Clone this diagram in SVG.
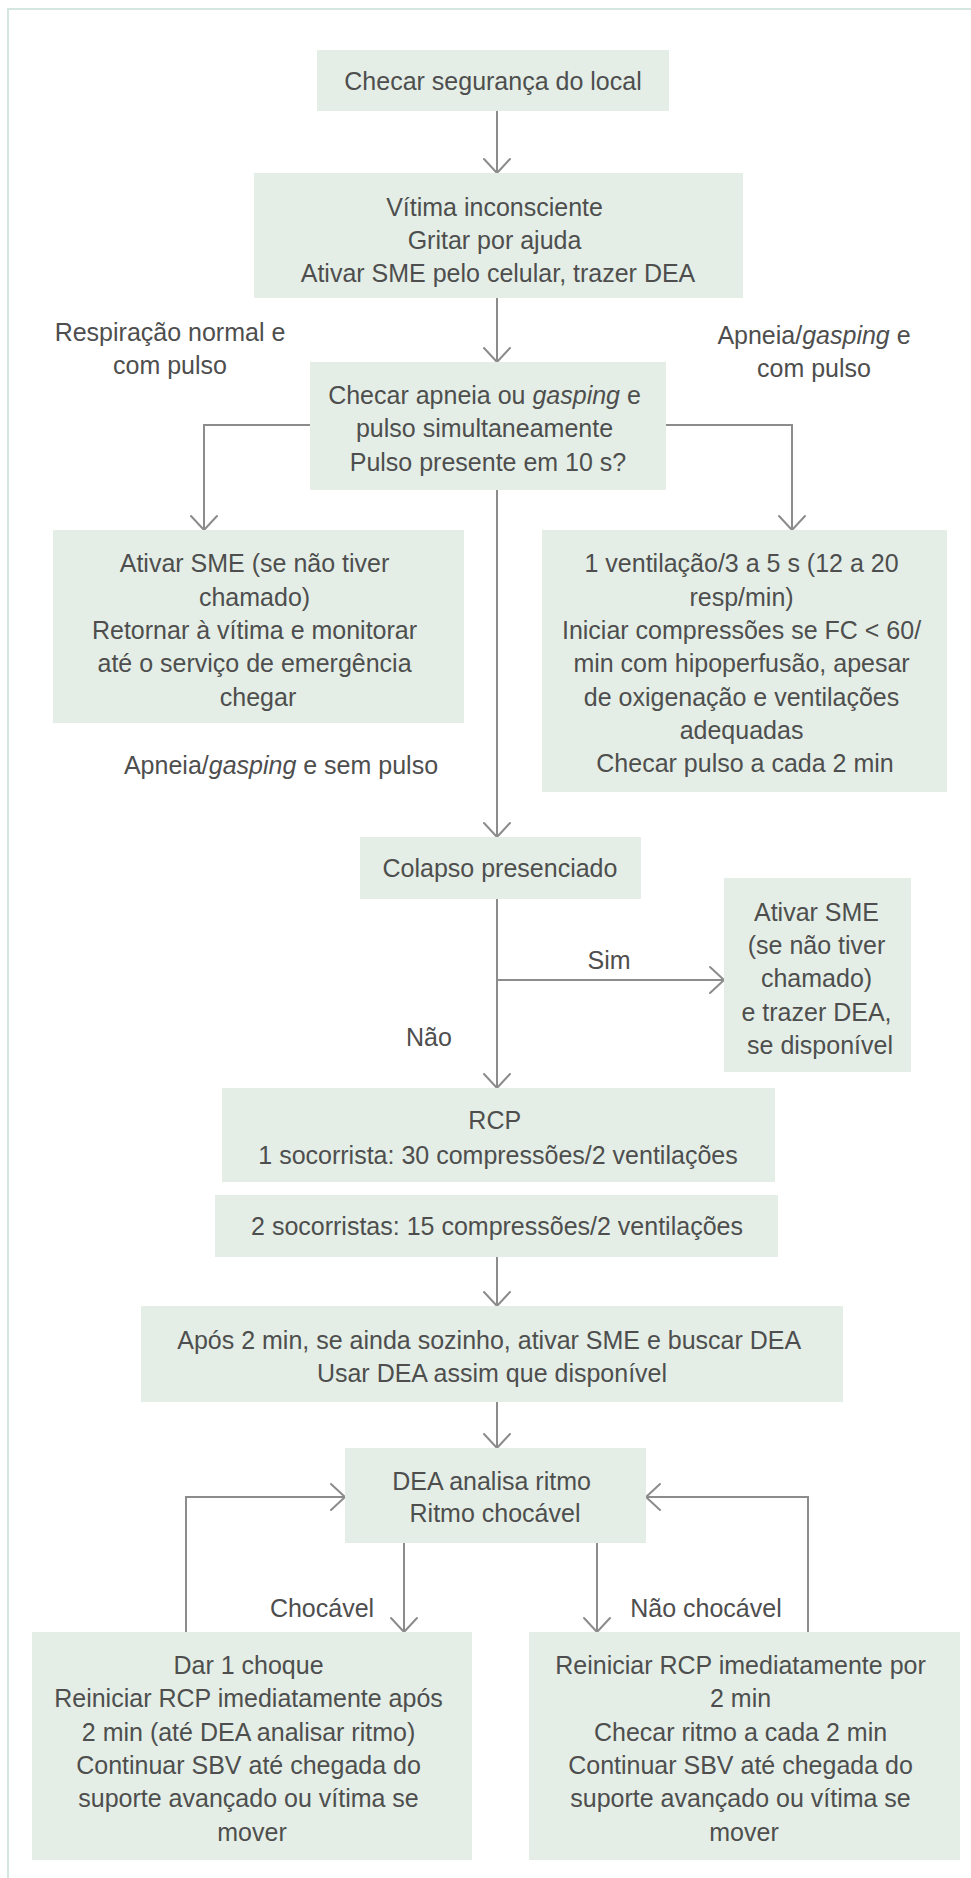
<svg xmlns="http://www.w3.org/2000/svg" width="971" height="1878" viewBox="0 0 971 1878">
  <style>
    .box { fill: #e4eee6; }
    .t { font-family: "Liberation Sans", Arial, sans-serif; font-size: 25px; fill: #4e4e4e; text-anchor: middle; }
    .i { font-style: italic; }
    .c { fill: none; stroke: #8c8c8c; stroke-width: 2; }
    .frame { fill: none; stroke: #d3e6df; stroke-width: 2; }
  </style>
  <defs>
    <marker id="chev" markerUnits="userSpaceOnUse" viewBox="-17 -16 20 32" refX="0" refY="0" markerWidth="20" markerHeight="32" orient="auto">
      <path d="M-14,-13 L0,0 L-14,13" fill="none" stroke="#8c8c8c" stroke-width="2" stroke-linejoin="round" stroke-linecap="round"/>
    </marker>
  </defs>

  <rect width="971" height="1878" fill="#ffffff"/>
  <!-- page frame (top and left rules) -->
  <path class="frame" d="M8,1878 V9 H971"/>

  <!-- connectors -->
  <g id="connectors">
    <path class="c" d="M497,111 V173" marker-end="url(#chev)"/>
    <path class="c" d="M497,298 V362" marker-end="url(#chev)"/>
    <path class="c" d="M310,425 H204 V530" marker-end="url(#chev)"/>
    <path class="c" d="M666,425 H792 V530" marker-end="url(#chev)"/>
    <path class="c" d="M497,490 V837" marker-end="url(#chev)"/>
    <path class="c" d="M497,899 V1088" marker-end="url(#chev)"/>
    <path class="c" d="M497,980 H724" marker-end="url(#chev)"/>
    <path class="c" d="M497,1257 V1306" marker-end="url(#chev)"/>
    <path class="c" d="M497,1402 V1448" marker-end="url(#chev)"/>
    <path class="c" d="M404,1543 V1632" marker-end="url(#chev)"/>
    <path class="c" d="M597,1543 V1632" marker-end="url(#chev)"/>
    <path class="c" d="M186,1632 V1497 H345" marker-end="url(#chev)"/>
    <path class="c" d="M808,1632 V1497 H646" marker-end="url(#chev)"/>
  </g>

  <!-- edge labels -->
  <g id="labels">
    <text class="t"><tspan x="170" y="341">Respiração normal e</tspan><tspan x="170" y="374">com pulso</tspan></text>
    <text class="t"><tspan x="814" y="344">Apneia/<tspan class="i">gasping</tspan> e</tspan><tspan x="814" y="377">com pulso</tspan></text>
    <text class="t" x="281" y="774">Apneia/<tspan class="i">gasping</tspan> e sem pulso</text>
    <text class="t" x="609" y="969">Sim</text>
    <text class="t" x="429" y="1046">Não</text>
    <text class="t" x="322" y="1617">Chocável</text>
    <text class="t" x="706" y="1617">Não chocável</text>
  </g>

  <g id="n-seguranca">
    <rect class="box" x="317" y="50" width="352" height="61"/>
    <text class="t" x="493" y="90">Checar segurança do local</text>
  </g>

  <g id="n-vitima">
    <rect class="box" x="254" y="173" width="489" height="125"/>
    <text class="t">
      <tspan x="498" y="216">Vítima inconsciente</tspan>
      <tspan x="498" y="249">Gritar por ajuda</tspan>
      <tspan x="498" y="282">Ativar SME pelo celular, trazer DEA</tspan>
    </text>
  </g>

  <g id="n-checar">
    <rect class="box" x="310" y="362" width="356" height="128"/>
    <text class="t">
      <tspan x="488" y="404">Checar apneia ou <tspan class="i">gasping</tspan> e</tspan>
      <tspan x="488" y="437">pulso simultaneamente</tspan>
      <tspan x="488" y="471">Pulso presente em 10 s?</tspan>
    </text>
  </g>

  <g id="n-monitorar">
    <rect class="box" x="53" y="530" width="411" height="193"/>
    <text class="t">
      <tspan x="258" y="572">Ativar SME (se não tiver</tspan>
      <tspan x="258" y="606">chamado)</tspan>
      <tspan x="258" y="639">Retornar à vítima e monitorar</tspan>
      <tspan x="258" y="672">até o serviço de emergência</tspan>
      <tspan x="258" y="706">chegar</tspan>
    </text>
  </g>

  <g id="n-ventilacao">
    <rect class="box" x="542" y="530" width="405" height="262"/>
    <text class="t">
      <tspan x="745" y="572">1 ventilação/3 a 5 s (12 a 20</tspan>
      <tspan x="745" y="606">resp/min)</tspan>
      <tspan x="745" y="639">Iniciar compressões se FC &lt; 60/</tspan>
      <tspan x="745" y="672">min com hipoperfusão, apesar</tspan>
      <tspan x="745" y="706">de oxigenação e ventilações</tspan>
      <tspan x="745" y="739">adequadas</tspan>
      <tspan x="745" y="772">Checar pulso a cada 2 min</tspan>
    </text>
  </g>

  <g id="n-colapso">
    <rect class="box" x="360" y="837" width="281" height="62"/>
    <text class="t" x="500" y="877">Colapso presenciado</text>
  </g>

  <g id="n-ativar-sme">
    <rect class="box" x="724" y="878" width="187" height="194"/>
    <text class="t">
      <tspan x="820" y="921">Ativar SME</tspan>
      <tspan x="820" y="954">(se não tiver</tspan>
      <tspan x="820" y="987">chamado)</tspan>
      <tspan x="820" y="1021">e trazer DEA,</tspan>
      <tspan x="820" y="1054">se disponível</tspan>
    </text>
  </g>

  <g id="n-rcp">
    <rect class="box" x="222" y="1088" width="553" height="94"/>
    <text class="t">
      <tspan x="498" y="1129">RCP</tspan>
      <tspan x="498" y="1164">1 socorrista: 30 compressões/2 ventilações</tspan>
    </text>
  </g>

  <g id="n-rcp-dois">
    <rect class="box" x="215" y="1195" width="563" height="62"/>
    <text class="t" x="497" y="1235">2 socorristas: 15 compressões/2 ventilações</text>
  </g>

  <g id="n-apos">
    <rect class="box" x="141" y="1306" width="702" height="96"/>
    <text class="t">
      <tspan x="492" y="1349">Após 2 min, se ainda sozinho, ativar SME e buscar DEA</tspan>
      <tspan x="492" y="1382">Usar DEA assim que disponível</tspan>
    </text>
  </g>

  <g id="n-dea">
    <rect class="box" x="345" y="1448" width="301" height="95"/>
    <text class="t">
      <tspan x="495" y="1490">DEA analisa ritmo</tspan>
      <tspan x="495" y="1522">Ritmo chocável</tspan>
    </text>
  </g>

  <g id="n-choque">
    <rect class="box" x="32" y="1632" width="440" height="228"/>
    <text class="t">
      <tspan x="252" y="1674">Dar 1 choque</tspan>
      <tspan x="252" y="1707">Reiniciar RCP imediatamente após</tspan>
      <tspan x="252" y="1741">2 min (até DEA analisar ritmo)</tspan>
      <tspan x="252" y="1774">Continuar SBV até chegada do</tspan>
      <tspan x="252" y="1807">suporte avançado ou vítima se</tspan>
      <tspan x="252" y="1841">mover</tspan>
    </text>
  </g>

  <g id="n-nao-chocavel">
    <rect class="box" x="529" y="1632" width="431" height="228"/>
    <text class="t">
      <tspan x="744" y="1674">Reiniciar RCP imediatamente por</tspan>
      <tspan x="744" y="1707">2 min</tspan>
      <tspan x="744" y="1741">Checar ritmo a cada 2 min</tspan>
      <tspan x="744" y="1774">Continuar SBV até chegada do</tspan>
      <tspan x="744" y="1807">suporte avançado ou vítima se</tspan>
      <tspan x="744" y="1841">mover</tspan>
    </text>
  </g>
</svg>
